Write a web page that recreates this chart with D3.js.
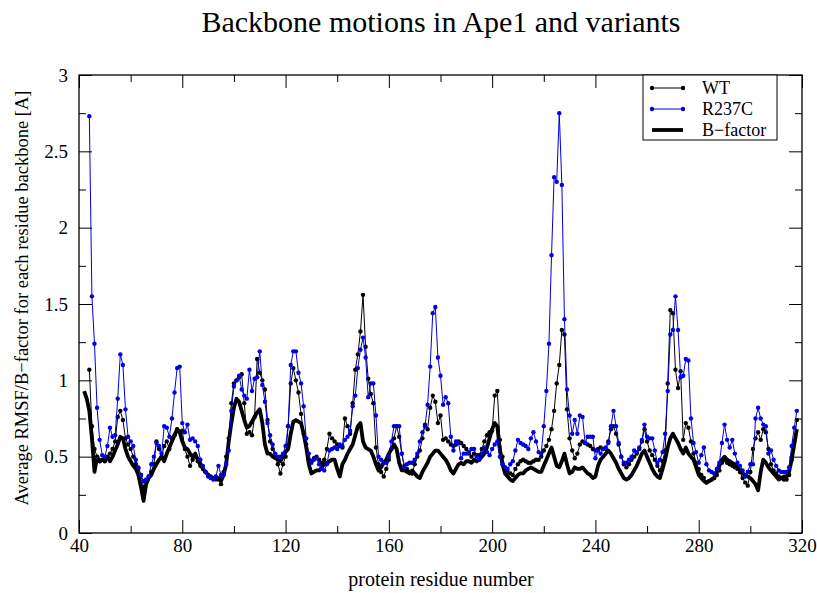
<!DOCTYPE html>
<html>
<head>
<meta charset="utf-8">
<style>
  body { margin: 0; background: #fff; }
  svg text { font-family: "Liberation Serif", "Times New Roman", "DejaVu Serif", serif; fill: #000; }
</style>
</head>
<body>
<script src="https://d3js.org/d3.v7.min.js"></script>
<script>
// tick labels
const xTicks = [40, 80, 120, 160, 200, 240, 280, 320];
const xMinor = [60, 100, 140, 180, 220, 260, 300];
const yTicks = [0, 0.5, 1, 1.5, 2, 2.5, 3];
const yMinor = [0.25, 0.75, 1.25, 1.75, 2.25, 2.75];

const titleText = 'Backbone motions in Ape1 and variants';
const xLabel = 'protein residue number';
const yLabel = 'Average RMSF/B\u2212factor for each residue backbone [A]';
const seriesNames = ['WT', 'R237C', 'B\u2212factor'];

// WT, residues 44..318
const wtStart = 44;
const wtValues = [
  1.07, 0.70, 0.55, 0.50, 0.47, 0.48, 0.47, 0.50, 0.52, 0.55,
  0.60, 0.76, 0.80, 0.74, 0.62, 0.58, 0.55, 0.50, 0.45, 0.42,
  0.38, 0.30, 0.33, 0.37, 0.40, 0.45, 0.60, 0.55, 0.50, 0.57,
  0.60, 0.55, 0.62, 0.64, 0.68, 0.66, 0.67, 0.55, 0.50, 0.44,
  0.48, 0.50, 0.47, 0.44, 0.42, 0.40, 0.38, 0.37, 0.36, 0.36,
  0.35, 0.32, 0.40, 0.50, 0.62, 0.85, 0.98, 1.00, 1.02, 1.04,
  0.85, 0.65, 0.66, 0.64, 0.76, 1.14, 1.05, 1.00, 0.94, 0.74,
  0.60, 0.55, 0.50, 0.45, 0.39, 0.45, 0.50, 0.70, 0.98, 1.08,
  1.00, 0.92, 0.78, 0.65, 0.58, 0.48, 0.47, 0.49, 0.50, 0.48,
  0.46, 0.48, 0.55, 0.65, 0.62, 0.60, 0.58, 0.57, 0.56, 0.75,
  0.70, 0.65, 0.85, 1.07, 1.17, 1.32, 1.56, 1.22, 1.01, 0.91,
  0.85, 0.56, 0.45, 0.40, 0.37, 0.42, 0.48, 0.55, 0.62, 0.70,
  0.63, 0.52, 0.44, 0.42, 0.40, 0.39, 0.45, 0.50, 0.54, 0.62,
  0.71, 0.68, 0.82, 0.90, 0.86, 0.72, 0.77, 0.61, 0.62, 0.60,
  0.58, 0.57, 0.58, 0.60, 0.59, 0.57, 0.55, 0.52, 0.50, 0.52,
  0.51, 0.51, 0.55, 0.60, 0.64, 0.66, 0.67, 0.90, 0.93, 0.61,
  0.50, 0.43, 0.40, 0.39, 0.38, 0.42, 0.45, 0.47, 0.48, 0.47,
  0.46, 0.46, 0.47, 0.48, 0.48, 0.50, 0.54, 0.57, 0.61, 0.68,
  0.80, 0.98, 1.10, 1.33, 1.30, 0.81, 0.62, 0.54, 0.49, 0.52,
  0.58, 0.60, 0.59, 0.58, 0.57, 0.55, 0.54, 0.55, 0.56, 0.55,
  0.55, 0.60, 0.68, 0.70, 0.65, 0.58, 0.50, 0.45, 0.43, 0.45,
  0.48, 0.50, 0.52, 0.55, 0.60, 0.68, 0.60, 0.54, 0.51, 0.48,
  0.44, 0.41, 0.47, 0.54, 0.98, 1.46, 1.44, 1.07, 0.95, 1.06,
  0.61, 0.72, 0.69, 0.60, 0.52, 0.46, 0.42, 0.38, 0.36, 0.33,
  0.34, 0.35, 0.36, 0.38, 0.41, 0.46, 0.48, 0.46, 0.45, 0.44,
  0.43, 0.42, 0.40, 0.36, 0.33, 0.31, 0.40, 0.55, 0.62, 0.66,
  0.61, 0.68, 0.66, 0.55, 0.45, 0.41, 0.39, 0.37, 0.36, 0.35,
  0.35, 0.38, 0.48, 0.60, 0.74
];

// R237C, residues 44..318
const r237cStart = 44;
const r237cValues = [
  2.73, 1.55, 1.24, 0.82, 0.61, 0.51, 0.50, 0.57, 0.69, 0.63,
  0.64, 0.88, 1.17, 1.10, 0.81, 0.63, 0.60, 0.57, 0.48, 0.43,
  0.38, 0.34, 0.35, 0.37, 0.45, 0.50, 0.59, 0.57, 0.52, 0.70,
  0.69, 0.63, 0.75, 0.92, 1.08, 1.09, 0.72, 0.66, 0.71, 0.61,
  0.62, 0.60, 0.57, 0.48, 0.44, 0.40, 0.37, 0.36, 0.35, 0.37,
  0.44, 0.38, 0.38, 0.45, 0.54, 0.80, 0.96, 1.00, 1.03, 0.94,
  0.90, 0.88, 1.07, 0.93, 1.01, 1.02, 1.19, 0.97, 0.86, 0.72,
  0.64, 0.58, 0.52, 0.50, 0.50, 0.52, 0.57, 0.70, 1.10, 1.19,
  1.19, 1.05, 0.98, 0.83, 0.62, 0.52, 0.46, 0.48, 0.49, 0.45,
  0.42, 0.41, 0.45, 0.54, 0.55, 0.56, 0.55, 0.58, 0.57, 0.61,
  0.63, 0.67, 0.83, 0.90, 1.08, 1.20, 1.28, 1.15, 0.89, 0.98,
  0.98, 0.77, 0.50, 0.48, 0.46, 0.46, 0.50, 0.60, 0.70, 0.70,
  0.70, 0.52, 0.43, 0.45, 0.46, 0.46, 0.48, 0.52, 0.60, 0.66,
  0.70, 0.84, 1.09, 1.44, 1.48, 1.15, 1.03, 0.84, 0.89, 0.85,
  0.63, 0.54, 0.60, 0.59, 0.49, 0.52, 0.52, 0.53, 0.55, 0.55,
  0.50, 0.48, 0.52, 0.56, 0.53, 0.51, 0.55, 0.58, 0.60, 0.50,
  0.45, 0.43, 0.42, 0.45, 0.47, 0.54, 0.61, 0.59, 0.58, 0.57,
  0.55, 0.62, 0.66, 0.60, 0.53, 0.52, 0.70, 0.93, 1.24, 1.82,
  2.33, 2.30, 2.75, 2.28, 1.40, 0.94, 0.77, 0.65, 0.74, 0.65,
  0.77, 0.76, 0.59, 0.63, 0.63, 0.63, 0.49, 0.54, 0.52, 0.55,
  0.56, 0.59, 0.70, 0.80, 0.70, 0.59, 0.50, 0.46, 0.46, 0.48,
  0.50, 0.54, 0.53, 0.56, 0.61, 0.71, 0.63, 0.62, 0.62, 0.54,
  0.46, 0.48, 0.53, 0.65, 0.93, 1.30, 1.33, 1.55, 1.33, 1.02,
  1.03, 1.14, 1.13, 0.75, 0.59, 0.53, 0.46, 0.51, 0.56, 0.45,
  0.41, 0.40, 0.39, 0.42, 0.46, 0.59, 0.71, 0.61, 0.56, 0.61,
  0.52, 0.46, 0.44, 0.41, 0.37, 0.40, 0.45, 0.45, 0.75, 0.82,
  0.75, 0.71, 0.70, 0.52, 0.54, 0.48, 0.44, 0.41, 0.40, 0.40,
  0.40, 0.43, 0.57, 0.69, 0.80
];

// B-factor, residues 42..318
const bfacStart = 42;
const bfacValues = [
  0.93, 0.88, 0.80, 0.62, 0.40, 0.50, 0.47, 0.48, 0.48, 0.50,
  0.47, 0.50, 0.54, 0.58, 0.63, 0.62, 0.55, 0.50, 0.47, 0.44,
  0.42, 0.38, 0.30, 0.21, 0.32, 0.36, 0.38, 0.42, 0.45, 0.48,
  0.50, 0.47, 0.52, 0.56, 0.60, 0.64, 0.68, 0.66, 0.60, 0.56,
  0.55, 0.52, 0.50, 0.52, 0.48, 0.45, 0.42, 0.40, 0.38, 0.36,
  0.36, 0.35, 0.36, 0.34, 0.38, 0.45, 0.60, 0.72, 0.82, 0.88,
  0.86, 0.80, 0.74, 0.69, 0.70, 0.73, 0.76, 0.79, 0.81, 0.72,
  0.58, 0.52, 0.52, 0.50, 0.49, 0.48, 0.47, 0.50, 0.53, 0.55,
  0.65, 0.73, 0.74, 0.73, 0.72, 0.65, 0.56, 0.45, 0.39, 0.40,
  0.41, 0.41, 0.43, 0.45, 0.46, 0.47, 0.48, 0.48, 0.42, 0.37,
  0.45, 0.48, 0.52, 0.55, 0.58, 0.64, 0.70, 0.72, 0.60, 0.56,
  0.55, 0.54, 0.50, 0.45, 0.41, 0.43, 0.46, 0.48, 0.52, 0.55,
  0.58, 0.55, 0.46, 0.41, 0.41, 0.40, 0.39, 0.41, 0.39, 0.37,
  0.36, 0.40, 0.43, 0.46, 0.50, 0.52, 0.54, 0.54, 0.52, 0.50,
  0.48, 0.45, 0.41, 0.39, 0.42, 0.45, 0.46, 0.45, 0.47, 0.47,
  0.46, 0.48, 0.47, 0.48, 0.50, 0.52, 0.56, 0.62, 0.68, 0.72,
  0.70, 0.54, 0.45, 0.39, 0.37, 0.35, 0.34, 0.36, 0.38, 0.39,
  0.39, 0.41, 0.42, 0.43, 0.42, 0.41, 0.40, 0.40, 0.44, 0.48,
  0.52, 0.56, 0.50, 0.44, 0.43, 0.47, 0.52, 0.45, 0.39, 0.40,
  0.43, 0.42, 0.42, 0.43, 0.41, 0.39, 0.38, 0.36, 0.37, 0.44,
  0.48, 0.50, 0.52, 0.54, 0.52, 0.49, 0.46, 0.42, 0.39, 0.36,
  0.35, 0.36, 0.38, 0.41, 0.44, 0.48, 0.52, 0.54, 0.50, 0.46,
  0.42, 0.39, 0.37, 0.36, 0.42, 0.48, 0.56, 0.62, 0.65, 0.62,
  0.59, 0.55, 0.52, 0.56, 0.52, 0.50, 0.48, 0.43, 0.38, 0.36,
  0.34, 0.33, 0.34, 0.35, 0.36, 0.40, 0.45, 0.48, 0.50, 0.48,
  0.47, 0.46, 0.45, 0.43, 0.41, 0.39, 0.38, 0.37, 0.36, 0.34,
  0.32, 0.28, 0.40, 0.48, 0.46, 0.43, 0.41, 0.39, 0.37, 0.35,
  0.36, 0.37, 0.37, 0.40, 0.48, 0.58, 0.68
];

const W = 817, H = 593;
const plot = { left: 79, right: 802, top: 75, bottom: 533 };
const blue = '#0000e0';
const serif = '"Liberation Serif", "Times New Roman", "DejaVu Serif", serif';

const svg = d3.select('body').append('svg')
  .attr('width', W)
  .attr('height', H)
  .attr('font-family', serif);

const x = d3.scaleLinear().domain([40, 320]).range([plot.left, plot.right]);
const y = d3.scaleLinear().domain([0, 3]).range([plot.bottom, plot.top]);

const toPoints = (start, vals) => vals.map((v, i) => ({ r: start + i, v: v }));
const wt = toPoints(wtStart, wtValues);
const mut = toPoints(r237cStart, r237cValues);
const bfac = toPoints(bfacStart, bfacValues);

const line = d3.line().x(d => x(d.r)).y(d => y(d.v));

// title + axis labels
svg.append('text')
  .attr('x', 441).attr('y', 32)
  .attr('text-anchor', 'middle')
  .style('font-family', serif)
  .style('font-size', '30px')
  .text(titleText);

svg.append('text')
  .attr('x', 441).attr('y', 586)
  .attr('text-anchor', 'middle')
  .style('font-family', serif)
  .style('font-size', '20px')
  .text(xLabel);

svg.append('text')
  .attr('transform', `translate(28,${(plot.top + plot.bottom) / 2 - 6}) rotate(-90)`)
  .attr('text-anchor', 'middle')
  .style('font-family', serif)
  .style('font-size', '18.5px')
  .text(yLabel);

// data
const data = svg.append('g');

data.append('path')
  .datum(bfac)
  .attr('fill', 'none')
  .attr('stroke', '#000')
  .attr('stroke-width', 3.8)
  .attr('stroke-linejoin', 'round')
  .attr('d', line);

data.append('path')
  .datum(wt)
  .attr('fill', 'none')
  .attr('stroke', '#000')
  .attr('stroke-width', 1)
  .attr('d', line);

data.append('g')
  .selectAll('circle')
  .data(wt)
  .join('circle')
  .attr('cx', d => x(d.r))
  .attr('cy', d => y(d.v))
  .attr('r', 2.2)
  .attr('fill', '#000');

data.append('path')
  .datum(mut)
  .attr('fill', 'none')
  .attr('stroke', blue)
  .attr('stroke-width', 1)
  .attr('d', line);

data.append('g')
  .selectAll('circle')
  .data(mut)
  .join('circle')
  .attr('cx', d => x(d.r))
  .attr('cy', d => y(d.v))
  .attr('r', 2.2)
  .attr('fill', blue);

// axes, ticks pointing inward on all four sides
function tidy(g) {
  g.select('.domain').remove();
  g.selectAll('line').attr('stroke', '#000').attr('stroke-width', 1);
  g.selectAll('text').attr('fill', '#000')
    .style('font-size', '19px')
    .style('font-family', serif);
}

const fmt = d => String(d);

svg.append('g')
  .attr('transform', `translate(0,${plot.bottom})`)
  .call(d3.axisBottom(x).tickValues(xTicks).tickSize(-13).tickPadding(6).tickFormat(fmt))
  .call(tidy);
svg.append('g')
  .attr('transform', `translate(0,${plot.bottom})`)
  .call(d3.axisBottom(x).tickValues(xMinor).tickSize(-7).tickFormat(''))
  .call(tidy);
svg.append('g')
  .attr('transform', `translate(0,${plot.top})`)
  .call(d3.axisTop(x).tickValues(xTicks).tickSize(-13).tickFormat(''))
  .call(tidy);
svg.append('g')
  .attr('transform', `translate(0,${plot.top})`)
  .call(d3.axisTop(x).tickValues(xMinor).tickSize(-7).tickFormat(''))
  .call(tidy);

svg.append('g')
  .attr('transform', `translate(${plot.left},0)`)
  .call(d3.axisLeft(y).tickValues(yTicks).tickSize(-13).tickPadding(11).tickFormat(fmt))
  .call(tidy);
svg.append('g')
  .attr('transform', `translate(${plot.left},0)`)
  .call(d3.axisLeft(y).tickValues(yMinor).tickSize(-7).tickFormat(''))
  .call(tidy);
svg.append('g')
  .attr('transform', `translate(${plot.right},0)`)
  .call(d3.axisRight(y).tickValues(yTicks).tickSize(-13).tickFormat(''))
  .call(tidy);
svg.append('g')
  .attr('transform', `translate(${plot.right},0)`)
  .call(d3.axisRight(y).tickValues(yMinor).tickSize(-7).tickFormat(''))
  .call(tidy);

svg.append('rect')
  .attr('x', plot.left).attr('y', plot.top)
  .attr('width', plot.right - plot.left)
  .attr('height', plot.bottom - plot.top)
  .attr('fill', 'none')
  .attr('stroke', '#000')
  .attr('stroke-width', 1.3);

// legend
const legend = svg.append('g').attr('transform', 'translate(643,75)');
legend.append('rect')
  .attr('width', 134).attr('height', 65)
  .attr('fill', '#fff')
  .attr('stroke', '#000')
  .attr('stroke-width', 1);

const legendItems = [
  { name: seriesNames[0], color: '#000', marker: true, width: 1 },
  { name: seriesNames[1], color: blue, marker: true, width: 1 },
  { name: seriesNames[2], color: '#000', marker: false, width: 3.8 }
];

const item = legend.selectAll('g.item')
  .data(legendItems)
  .join('g')
  .attr('class', 'item')
  .attr('transform', (d, i) => `translate(0,${13 + i * 21})`);

item.append('line')
  .attr('x1', 9).attr('x2', 40)
  .attr('stroke', d => d.color)
  .attr('stroke-width', d => d.width);

item.filter(d => d.marker).selectAll('circle')
  .data(d => [d, d])
  .join('circle')
  .attr('cx', (d, i) => i === 0 ? 9 : 40)
  .attr('r', 2.2)
  .attr('fill', d => d.color);

item.append('text')
  .attr('x', 59).attr('y', 6)
  .style('font-family', serif)
  .style('font-size', '18px')
  .text(d => d.name);
</script>
</body>
</html>
